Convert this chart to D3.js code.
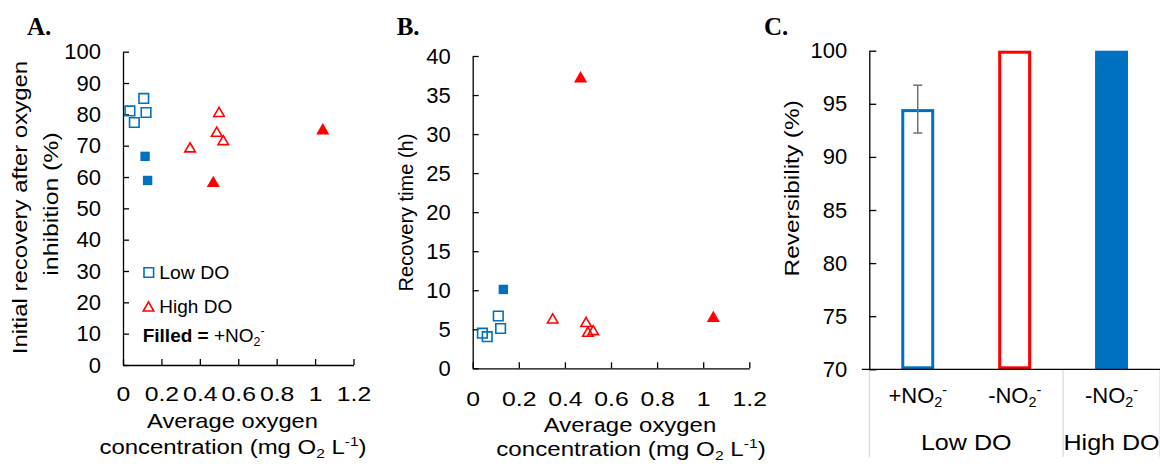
<!DOCTYPE html>
<html>
<head>
<meta charset="utf-8">
<script src="https://cdn.jsdelivr.net/npm/d3@7"></script>
<style>
  body { margin: 0; background: #fff; }
  svg text { font-family: "Liberation Sans", Arial, sans-serif; fill: #000; }
</style>
</head>
<body>
<script>
// A: initial recovery (%) vs average O2 (mg O2/L)
const recLowOpen = [[0.036, 81.1], [0.108, 85.1], [0.120, 80.6], [0.059, 77.4]];
const recLowFilled = [[0.115, 66.6], [0.128, 58.9]];
const recHighOpen = [[0.349, 69.0], [0.500, 80.3], [0.488, 74.0], [0.522, 71.3]];
const recHighFilled = [[0.470, 58.0], [1.040, 74.8]];

// B: recovery time (h) vs average O2
const timeLowOpen = [[0.042, 4.5], [0.063, 4.05], [0.111, 6.7], [0.121, 5.1]];
const timeLowFilled = [[0.133, 10.1]];
const timeHighOpen = [[0.347, 6.2], [0.492, 5.75], [0.500, 4.5], [0.523, 4.7]];
const timeHighFilled = [[0.468, 37.1], [1.044, 6.4]];

// C: reversibility (%)
const revCats = ["lowPlus", "lowMinus", "highMinus"];
const revLabels = ["+NO_{2}^{-}", "-NO_{2}^{-}", "-NO_{2}^{-}"];
const revValues = [94.5, 100, 100];
const revErrors = [2.25, 0, 0];
const revGroups = ["Low DO", "High DO"];
const revGroupSpan = [2, 1];

const xTicks = [0, 0.2, 0.4, 0.6, 0.8, 1, 1.2];
const recTicks = d3.range(0, 101, 10);
const timeTicks = d3.range(0, 41, 5);
const revTicks = d3.range(70, 101, 5);

const BLUE = "#0070C0", RED = "#FF0000";

const svg = d3.select("body").append("svg")
  .attr("width", 1160)
  .attr("height", 464);

// text with _{sub}, ^{sup} and *bold* parts
function rich(text, str, size) {
  text.text(null);
  const parts = str.split(/(_\{[^}]*\}|\^\{[^}]*\}|\*[^*]*\*)/).filter(s => s.length);
  let cur = 0;
  parts.forEach(p => {
    let target = 0, content = p, small = false, bold = false;
    if (p.startsWith("_{")) { content = p.slice(2, -1); target = 0.2 * size; small = true; }
    else if (p.startsWith("^{")) { content = p.slice(2, -1); target = -0.36 * size; small = true; }
    else if (p.startsWith("*")) { content = p.slice(1, -1); bold = true; }
    const ts = text.append("tspan").text(content);
    if (target - cur !== 0) ts.attr("dy", target - cur);
    if (small) ts.style("font-size", (size * 0.65) + "px");
    if (bold) ts.attr("font-weight", "bold");
    cur = target;
  });
}

// sx stretches the text along its own direction
function label(x, y, str, size, opts) {
  opts = opts || {};
  const sx = opts.sx || 1;
  const t = svg.append("text")
    .style("font-size", size + "px")
    .attr("text-anchor", opts.anchor || "middle")
    .attr("transform", `translate(${x},${y})${opts.rotate ? " rotate(-90)" : ""} scale(${sx},1)`);
  rich(t, str, size);
  if (opts.family) t.style("font-family", opts.family);
  if (opts.bold) t.attr("font-weight", "bold");
  return t;
}

function styleAxis(g) {
  g.attr("font-family", null).attr("font-size", null);
  g.selectAll("path, line").attr("stroke", "#000").attr("stroke-width", 1.3);
}

function marker(shape, filled) {
  if (shape === "sq") return d3.symbol(d3.symbolSquare, filled ? 88 : 92)();
  return d3.symbol(d3.symbolTriangle, filled ? 74 : 48)();
}

function scatter(cfg) {
  const x = d3.scaleLinear().domain([0, 1.2]).range(cfg.xRange);
  const y = d3.scaleLinear().domain(cfg.yDomain).range(cfg.yRange);

  const gy = svg.append("g")
    .attr("transform", `translate(${cfg.xRange[0]},0)`)
    .call(d3.axisLeft(y).tickValues(cfg.yTicks).tickSize(-6).tickSizeOuter(0).tickPadding(22));
  styleAxis(gy);
  gy.selectAll("text").style("font-size", "22px");

  const gx = svg.append("g")
    .attr("transform", `translate(0,${cfg.yRange[0]})`)
    .call(d3.axisBottom(x).tickValues(xTicks).tickSize(-6).tickSizeOuter(0)
      .tickPadding(cfg.xPad).tickFormat(d => String(d)));
  styleAxis(gx);
  gx.selectAll("text").style("font-size", "21px").attr("transform", "scale(1.18,1)");

  cfg.series.forEach(s => {
    svg.append("g").selectAll("path")
      .data(s.data)
      .enter()
        .append("path")
        .attr("transform", d => `translate(${x(d[0])},${y(d[1])})`)
        .attr("d", marker(s.shape, s.filled))
        .attr("fill", s.filled ? s.color : "none")
        .attr("stroke", s.filled ? "none" : s.color)
        .attr("stroke-width", 1.6);
  });
}

const SERIF = "'Liberation Serif', 'Times New Roman', serif";

// ---- Panel A
label(27, 35, "A.", 25, { anchor: "start", family: SERIF, bold: true });
scatter({
  xRange: [123, 353.5], yRange: [365, 51.7], yDomain: [0, 100], yTicks: recTicks, xPad: 21,
  series: [
    { data: recLowOpen, shape: "sq", filled: false, color: BLUE },
    { data: recLowFilled, shape: "sq", filled: true, color: BLUE },
    { data: recHighOpen, shape: "tri", filled: false, color: RED },
    { data: recHighFilled, shape: "tri", filled: true, color: RED }
  ]
});
label(26.5, 207.5, "Initial recovery after oxygen", 20, { rotate: true, sx: 1.2 });
label(57.5, 204, "inhibition (%)", 20, { rotate: true, sx: 1.24 });
label(232.5, 428, "Average oxygen", 21, { sx: 1.13 });
label(233, 454, "concentration (mg O_{2} L^{-1})", 21, { sx: 1.14 });

// legend
svg.append("path").attr("transform", "translate(148.8,272.5)").attr("d", marker("sq", false))
  .attr("fill", "none").attr("stroke", BLUE).attr("stroke-width", 1.6);
svg.append("path").attr("transform", "translate(148.5,308)").attr("d", marker("tri", false))
  .attr("fill", "none").attr("stroke", RED).attr("stroke-width", 1.6);
label(159.3, 278.7, "Low DO", 19, { anchor: "start", sx: 1.02 });
label(159.3, 313, "High DO", 19, { anchor: "start" });
label(142.7, 341.7, "*Filled =* +NO_{2}^{-}", 19, { anchor: "start" });

// ---- Panel B
label(396.7, 35, "B.", 25, { anchor: "start", family: SERIF, bold: true });
scatter({
  xRange: [472.7, 749.3], yRange: [368.3, 56], yDomain: [0, 40], yTicks: timeTicks, xPad: 22.5,
  series: [
    { data: timeLowOpen, shape: "sq", filled: false, color: BLUE },
    { data: timeLowFilled, shape: "sq", filled: true, color: BLUE },
    { data: timeHighOpen, shape: "tri", filled: false, color: RED },
    { data: timeHighFilled, shape: "tri", filled: true, color: RED }
  ]
});
label(413, 212.5, "Recovery time (h)", 20, { rotate: true });
label(630, 431.7, "Average oxygen", 21, { sx: 1.14 });
label(631, 456, "concentration (mg O_{2} L^{-1})", 21, { sx: 1.15 });

// ---- Panel C
label(764, 35, "C.", 25, { anchor: "start", family: SERIF, bold: true });
const xC = d3.scaleBand().domain(revCats).range([869.3, 1160]).paddingInner(0.66).paddingOuter(0.33);
const yC = d3.scaleLinear().domain([70, 100]).range([369.3, 50.7]);
const bw = xC.bandwidth();
const step = xC.step();
const c0 = xC.range()[0];

// category separators
let acc = 0;
[0].concat(revGroupSpan).forEach(n => {
  acc += n;
  svg.append("line")
    .attr("x1", c0 + acc * step).attr("x2", c0 + acc * step)
    .attr("y1", yC(70)).attr("y2", 457)
    .attr("stroke", "#d9d9d9").attr("stroke-width", 1.2);
});

const gyC = svg.append("g")
  .attr("transform", `translate(${c0},0)`)
  .call(d3.axisLeft(yC).tickValues(revTicks).tickSize(-7).tickSizeOuter(0).tickPadding(22));
styleAxis(gyC);
gyC.selectAll("text").style("font-size", "22px");

const gxC = svg.append("g")
  .attr("transform", `translate(0,${yC(70)})`)
  .call(d3.axisBottom(xC).tickSize(0).tickPadding(18));
gxC.attr("font-family", null).attr("font-size", null);
gxC.select(".domain").remove();
gxC.selectAll("text").style("font-size", "22px").each(function (d, i) { rich(d3.select(this), revLabels[i], 22); });

// group labels
acc = 0;
revGroups.forEach((g, i) => {
  const a = c0 + acc * step, b = c0 + (acc + revGroupSpan[i]) * step;
  label((a + b) / 2, 449.5, g, 22, { sx: 1.14 });
  acc += revGroupSpan[i];
});

const barStroke = { lowPlus: BLUE, lowMinus: RED, highMinus: "none" };
const barFill = { lowPlus: "none", lowMinus: "none", highMinus: BLUE };

svg.append("g").selectAll("rect")
  .data(revCats)
  .enter()
    .append("rect")
    .attr("x", d => barFill[d] === "none" ? xC(d) + 1.5 : xC(d))
    .attr("width", d => barFill[d] === "none" ? bw - 3 : bw)
    .attr("y", (d, i) => barFill[d] === "none" ? yC(revValues[i]) + 1.5 : yC(revValues[i]))
    .attr("height", (d, i) => barFill[d] === "none" ? yC(70) - yC(revValues[i]) - 3 : yC(70) - yC(revValues[i]))
    .attr("fill", d => barFill[d])
    .attr("stroke", d => barStroke[d])
    .attr("stroke-width", 3);

// x axis line of C
svg.append("line")
  .attr("x1", c0 - 7.5).attr("x2", 1160)
  .attr("y1", yC(70)).attr("y2", yC(70))
  .attr("stroke", "#000").attr("stroke-width", 1.3);

// error bars
revCats.forEach((d, i) => {
  if (!revErrors[i]) return;
  const cx = xC(d) + bw / 2;
  const e = svg.append("g").attr("stroke", "#707070").attr("stroke-width", 1.5);
  e.append("line").attr("x1", cx).attr("x2", cx).attr("y1", yC(revValues[i] + revErrors[i])).attr("y2", yC(revValues[i] - revErrors[i]));
  [1, -1].forEach(s => {
    e.append("line").attr("x1", cx - 4.5).attr("x2", cx + 4.5)
      .attr("y1", yC(revValues[i] + s * revErrors[i])).attr("y2", yC(revValues[i] + s * revErrors[i]));
  });
});

label(799, 188.3, "Reversibility (%)", 20, { rotate: true, sx: 1.22 });
</script>
</body>
</html>
